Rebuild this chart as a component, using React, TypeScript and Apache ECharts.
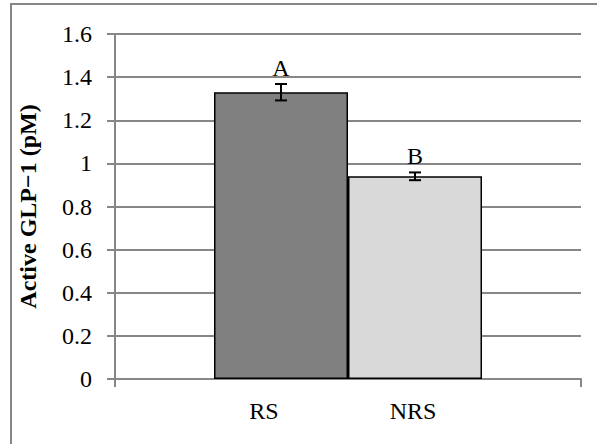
import React, { useEffect, useRef } from "react";
import * as echarts from "echarts";

const groupLabels = ["RS", "NRS"];
const meanValues = [1.33, 0.94];
const errorValues = [0.038, 0.018];
const letters = ["A", "B"];
const barColors = ["#808080", "#d9d9d9"];
const yTicks = { min: 0, max: 1.6, interval: 0.2 };

const FONT = "Liberation Serif";
const TICK_SIZE = 24;
const BAR_W = 134;

export default function App() {
  const ref = useRef<HTMLDivElement>(null);
  useEffect(() => {
    if (!ref.current) return;
    const chart = echarts.init(ref.current, null, { renderer: "svg" });
    const barSeries = groupLabels.map((name, i) => ({
      name,
      type: "bar",
      data: [meanValues[i]],
      barWidth: BAR_W,
      barGap: "0%",
      itemStyle: { color: barColors[i], borderColor: "#000", borderWidth: 1.5 },
      z: 3,
    }));
    const errData = groupLabels.map((_, i) => [0, meanValues[i], errorValues[i], i]);
    chart.setOption({
      animation: false,
      backgroundColor: "#fff",
      textStyle: { fontFamily: FONT },
      grid: { left: 115, top: 34, right: 16, bottom: 65 },
      xAxis: {
        type: "category",
        data: [""],
        boundaryGap: true,
        axisLine: { show: true, lineStyle: { color: "#878787", width: 2 } },
        axisTick: { show: true, length: 8, lineStyle: { color: "#878787", width: 2 } },
        axisLabel: { show: false },
      },
      yAxis: {
        type: "value",
        min: yTicks.min,
        max: yTicks.max,
        interval: yTicks.interval,
        name: "Active GLP\u22121 (pM)",
        nameLocation: "middle",
        nameGap: 75,
        nameRotate: 90,
        nameTextStyle: { fontFamily: FONT, fontSize: 24, fontWeight: "bold", color: "#000" },
        axisLine: { show: true, lineStyle: { color: "#878787", width: 2 } },
        axisTick: { show: true, length: 8, lineStyle: { color: "#878787", width: 2 } },
        axisLabel: { fontFamily: FONT, fontSize: TICK_SIZE, color: "#000", margin: 23 },
        splitLine: { show: true, lineStyle: { color: "#878787", width: 2 } },
      },
      series: [
        ...barSeries,
        {
          type: "custom",
          data: errData,
          encode: { x: 0, y: 1 },
          z: 5,
          renderItem: (params: any, api: any) => {
            const mean = api.value(1);
            const err = api.value(2);
            const idx = api.value(3);
            const side = idx === 0 ? -1 : 1;
            const cx = api.coord([0, mean])[0] + side * (BAR_W / 2);
            const yTop = api.coord([0, mean + err])[1];
            const yBot = api.coord([0, mean - err])[1];
            const cap = 6;
            const ls = { stroke: "#000", lineWidth: 2 };
            return {
              type: "group",
              children: [
                { type: "line", shape: { x1: cx, y1: yTop, x2: cx, y2: yBot }, style: ls },
                { type: "line", shape: { x1: cx - cap, y1: yTop, x2: cx + cap, y2: yTop }, style: ls },
                { type: "line", shape: { x1: cx - cap, y1: yBot, x2: cx + cap, y2: yBot }, style: ls },
                {
                  type: "text",
                  x: cx,
                  y: yTop - 4,
                  style: {
                    text: letters[idx],
                    fontFamily: FONT,
                    fontSize: TICK_SIZE,
                    fill: "#000",
                    align: "center",
                    verticalAlign: "bottom",
                  },
                },
              ],
            };
          },
        },
      ],
      graphic: [
        {
          type: "rect",
          shape: { x: 11, y: 4, width: 600, height: 460 },
          style: { fill: "none", stroke: "#878787", lineWidth: 2 },
          silent: true,
        },
        {
          type: "text",
          x: 264,
          y: 411,
          style: { text: groupLabels[0], fontFamily: FONT, fontSize: TICK_SIZE, fill: "#000", align: "center", verticalAlign: "middle" },
        },
        {
          type: "text",
          x: 413,
          y: 411,
          style: { text: groupLabels[1], fontFamily: FONT, fontSize: TICK_SIZE, fill: "#000", align: "center", verticalAlign: "middle" },
        },
      ],
    });
    return () => chart.dispose();
  }, []);
  return (
    <div
      ref={ref}
      style={{ position: "fixed", left: 0, top: 0, width: 597, height: 444 }}
    />
  );
}
